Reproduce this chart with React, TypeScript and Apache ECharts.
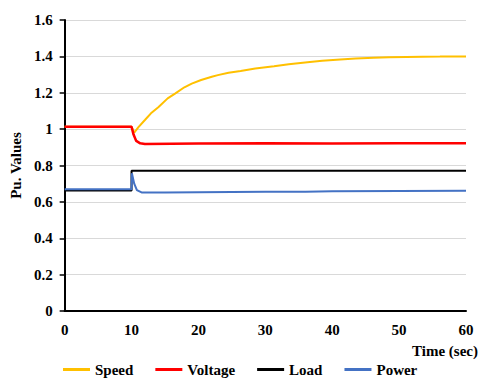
import React, { useEffect, useRef } from "react";
import * as echarts from "echarts";

// Simulated response after a load step at t = 10 s (per-unit values)
const speedTime = [0, 10, 10.4, 11, 12, 12.9, 14, 15.4, 16.5, 17.9, 19, 20.4, 22, 22.9, 24.5, 26.3, 28.5, 31.3, 33.5, 36.3, 38.5, 41.2, 43.5, 46.2, 48.5, 51.1, 53.5, 56.1, 58, 60];
const speedValues = [1.013, 1.013, 0.98, 1.01, 1.05, 1.087, 1.12, 1.169, 1.195, 1.23, 1.25, 1.27, 1.288, 1.297, 1.31, 1.32, 1.333, 1.346, 1.357, 1.368, 1.376, 1.383, 1.388, 1.392, 1.395, 1.397, 1.398, 1.399, 1.4, 1.4];

const voltageTime = [0, 10, 10.3, 10.7, 11.3, 12, 20, 30, 40, 50, 60];
const voltageValues = [1.013, 1.013, 0.97, 0.935, 0.922, 0.918, 0.921, 0.922, 0.921, 0.922, 0.922];

const loadTime = [0, 10, 10, 60];
const loadValues = [0.663, 0.663, 0.771, 0.771];

const powerTime = [0, 10, 10.05, 10.4, 10.8, 11.5, 15, 20, 25, 30, 36, 40, 50, 60];
const powerValues = [0.67, 0.67, 0.757, 0.7, 0.665, 0.652, 0.651, 0.653, 0.654, 0.655, 0.656, 0.659, 0.66, 0.661];

const seriesNames = ["Speed", "Voltage", "Load", "Power"];
const seriesColors = ["#FFC000", "#FF0000", "#000000", "#4472C4"];

const xTicks = { min: 0, max: 60, interval: 10 };
const yTicks = { min: 0, max: 1.6, interval: 0.2 };

const pair = (t: number[], v: number[]) => t.map((x, i) => [x, v[i]]);

const FONT = "Liberation Serif";

export default function App() {
  const ref = useRef<HTMLDivElement>(null);

  useEffect(() => {
    if (!ref.current) return;
    const chart = echarts.init(ref.current, undefined, { renderer: "svg" });
    const data = [
      pair(speedTime, speedValues),
      pair(voltageTime, voltageValues),
      pair(loadTime, loadValues),
      pair(powerTime, powerValues),
    ];
    chart.setOption({
      animation: false,
      backgroundColor: "#ffffff",
      grid: { left: 63, right: 14, top: 20, bottom: 69 },
      legend: {
        left: 63,
        top: 362,
        padding: 0,
        itemGap: 22,
        itemWidth: 27,
        itemHeight: 3,
        icon: "rect",
        data: seriesNames,
        textStyle: { fontFamily: FONT, fontWeight: "bold", fontSize: 15, color: "#000" },
      },
      graphic: [
        {
          type: "text",
          right: 2,
          top: 343,
          style: { text: "Time (sec)", font: `bold 15px "${FONT}"`, fill: "#000" },
        },
      ],
      xAxis: {
        type: "value",
        ...xTicks,
        axisLine: { show: true, lineStyle: { color: "#000", width: 2 } },
        axisTick: { show: false },
        splitLine: { show: false },
        axisLabel: { margin: 11, fontFamily: FONT, fontWeight: "bold", fontSize: 15, color: "#000" },
      },
      yAxis: {
        type: "value",
        ...yTicks,
        name: "Pu. Values",
        nameLocation: "middle",
        nameGap: 37,
        nameTextStyle: { fontFamily: FONT, fontWeight: "bold", fontSize: 15, color: "#000" },
        axisLine: { show: true, lineStyle: { color: "#000", width: 2 } },
        axisTick: { show: true, length: 5, lineStyle: { color: "#000", width: 1.5 } },
        splitLine: { show: true, lineStyle: { color: "#d9d9d9", width: 1 } },
        axisLabel: { margin: 12, fontFamily: FONT, fontWeight: "bold", fontSize: 15, color: "#000" },
      },
      series: seriesNames.map((name, i) => ({
        name,
        type: "line",
        data: data[i],
        showSymbol: false,
        symbol: "none",
        smooth: false,
        color: seriesColors[i],
        lineStyle: { color: seriesColors[i], width: i === 1 ? 2.5 : 2 },
      })),
    });
    return () => chart.dispose();
  }, []);

  return (
    <div
      ref={ref}
      style={{ position: "absolute", left: 0, top: 0, width: 480, height: 380 }}
    />
  );
}
